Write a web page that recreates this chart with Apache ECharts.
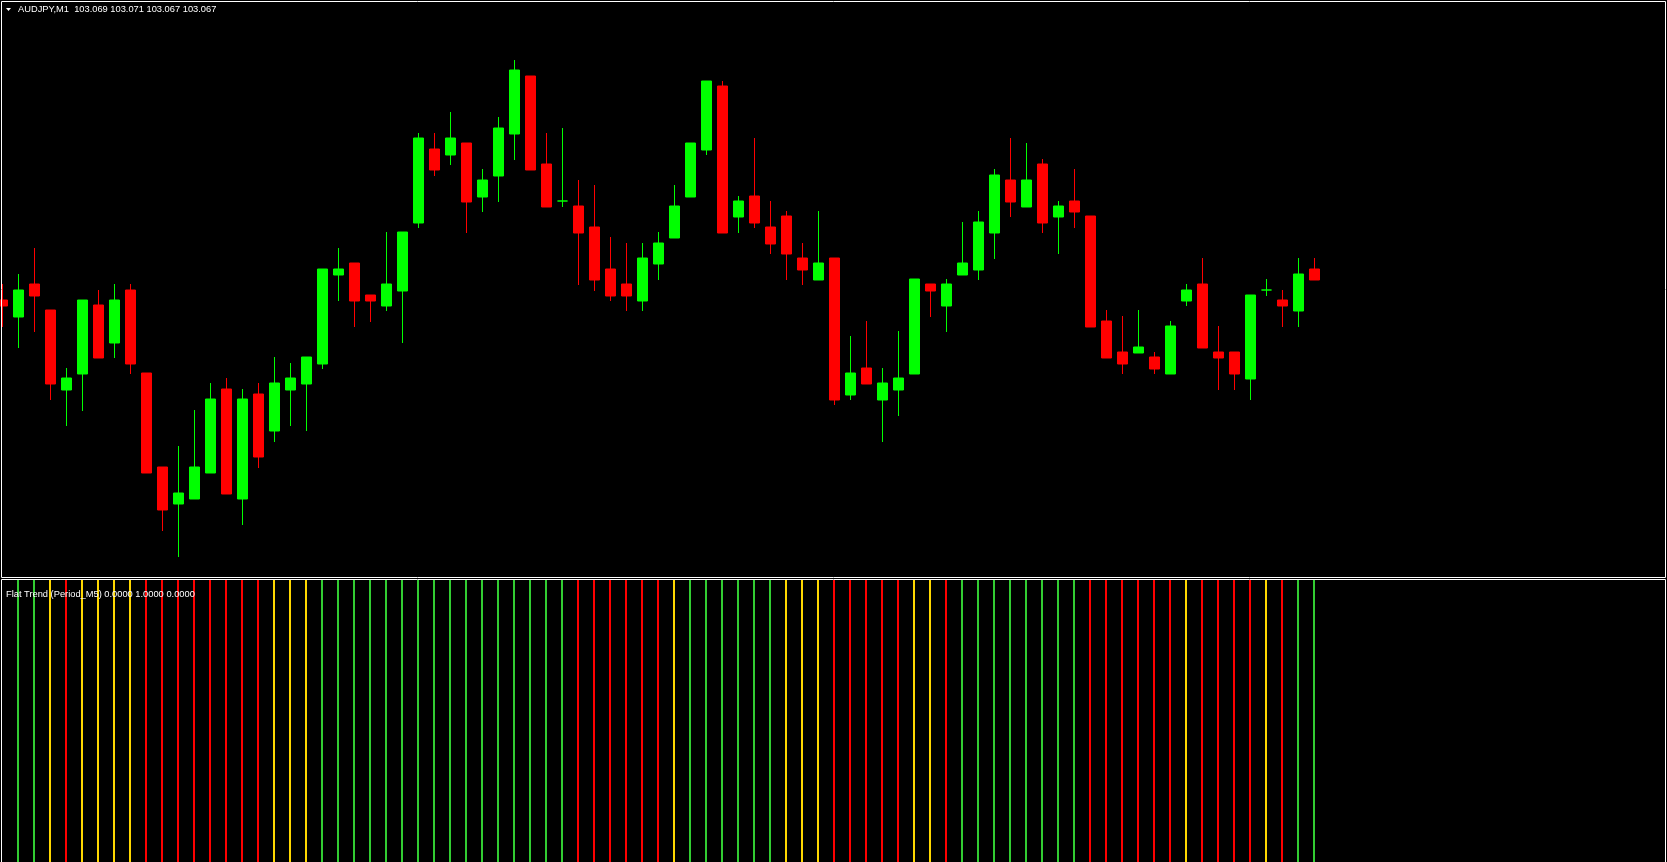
<!DOCTYPE html>
<html>
<head>
<meta charset="utf-8">
<script src="https://cdn.jsdelivr.net/npm/echarts@6/dist/echarts.min.js"></script>
<style>
html,body{margin:0;padding:0;background:#000;}
#chart{width:1667px;height:862px;}
</style>
</head>
<body>
<div id="chart"></div>
<script>
// ---- data ----
const symbol = 'AUDJPY';
const timeframe = 'M1';
const indicatorName = 'Flat Trend (Period_M5)';

const open = [
  103.0630,103.0596,103.0662,103.0610,103.0450,103.0482,103.0620,103.0544,103.0650,103.0484,
  103.0296,103.0222,103.0232,103.0284,103.0452,103.0232,103.0442,103.0368,103.0450,103.0462,
  103.0502,103.0680,103.0704,103.0640,103.0618,103.0648,103.0784,103.0932,103.0920,103.0944,
  103.0836,103.0878,103.0962,103.1078,103.0902,103.0828,103.0818,103.0776,103.0692,103.0662,
  103.0628,103.0702,103.0754,103.0836,103.0930,103.1058,103.0796,103.0838,103.0776,103.0798,
  103.0714,103.0670,103.0714,103.0440,103.0494,103.0430,103.0450,103.0482,103.0662,103.0618,
  103.0680,103.0690,103.0764,103.0870,103.0816,103.0902,103.0796,103.0828,103.0798,103.0588,
  103.0526,103.0524,103.0516,103.0482,103.0628,103.0662,103.0526,103.0526,103.0472,103.0650,
  103.0630,103.0608,103.0692
];
const high = [
  103.0662,103.0682,103.0734,103.0610,103.0494,103.0630,103.0650,103.0662,103.0662,103.0484,
  103.0296,103.0338,103.0410,103.0464,103.0474,103.0452,103.0464,103.0516,103.0504,103.0516,
  103.0692,103.0734,103.0704,103.0640,103.0766,103.0766,103.0964,103.0964,103.1006,103.0944,
  103.0892,103.0996,103.1110,103.1078,103.0964,103.0974,103.0870,103.0860,103.0756,103.0744,
  103.0744,103.0766,103.0860,103.0944,103.1068,103.1068,103.0838,103.0954,103.0828,103.0808,
  103.0744,103.0808,103.0714,103.0558,103.0588,103.0494,103.0568,103.0672,103.0662,103.0672,
  103.0786,103.0808,103.0892,103.0954,103.0944,103.0912,103.0828,103.0892,103.0798,103.0610,
  103.0598,103.0610,103.0526,103.0588,103.0662,103.0714,103.0578,103.0526,103.0640,103.0672,
  103.0650,103.0714,103.0714
];
const low = [
  103.0576,103.0534,103.0566,103.0430,103.0378,103.0408,103.0514,103.0514,103.0482,103.0284,
  103.0168,103.0116,103.0232,103.0284,103.0242,103.0180,103.0294,103.0346,103.0378,103.0368,
  103.0492,103.0628,103.0576,103.0586,103.0608,103.0544,103.0774,103.0878,103.0900,103.0764,
  103.0806,103.0826,103.0910,103.0890,103.0816,103.0816,103.0660,103.0648,103.0628,103.0608,
  103.0608,103.0670,103.0754,103.0836,103.0920,103.0764,103.0764,103.0774,103.0722,103.0670,
  103.0660,103.0670,103.0420,103.0430,103.0462,103.0346,103.0398,103.0482,103.0596,103.0566,
  103.0680,103.0670,103.0712,103.0796,103.0816,103.0764,103.0722,103.0774,103.0576,103.0514,
  103.0482,103.0524,103.0482,103.0482,103.0618,103.0534,103.0450,103.0450,103.0430,103.0638,
  103.0576,103.0576,103.0670
];
const close = [
  103.0618,103.0650,103.0638,103.0462,103.0474,103.0630,103.0514,103.0630,103.0502,103.0284,
  103.0210,103.0244,103.0296,103.0432,103.0242,103.0432,103.0316,103.0464,103.0474,103.0516,
  103.0692,103.0692,103.0628,103.0628,103.0662,103.0766,103.0954,103.0890,103.0954,103.0826,
  103.0870,103.0974,103.1090,103.0890,103.0816,103.0828,103.0764,103.0670,103.0638,103.0638,
  103.0714,103.0744,103.0818,103.0944,103.1068,103.0764,103.0828,103.0784,103.0742,103.0722,
  103.0690,103.0704,103.0430,103.0484,103.0462,103.0464,103.0474,103.0672,103.0648,103.0662,
  103.0704,103.0786,103.0880,103.0826,103.0870,103.0784,103.0818,103.0806,103.0576,103.0514,
  103.0502,103.0536,103.0492,103.0578,103.0650,103.0534,103.0514,103.0482,103.0640,103.0650,
  103.0618,103.0682,103.0670
];
// Flat Trend state per bar: 1 = up (green), 0 = flat (yellow), -1 = down (red)
const trend = [
  null,1,1,0,-1,0,0,0,0,-1,
  -1,-1,-1,-1,-1,-1,-1,0,0,0,
  1,1,1,1,1,1,1,1,1,1,
  1,1,1,1,1,1,-1,-1,-1,-1,
  -1,-1,0,1,1,1,1,1,1,0,
  0,0,-1,-1,-1,-1,-1,0,0,-1,
  1,1,1,1,1,1,1,1,-1,-1,
  -1,-1,-1,-1,0,-1,-1,-1,-1,0,
  -1,1,1
];
const slotCount = 105; // visible bar slots across the window
const barSlots = Array.from({length: slotCount}, (_, i) => String(i));

// ---- build options ----
const candles = open.map((o, i) => [o, close[i], low[i], high[i]]);
const upBuf = trend.map(t => t === 1 ? 1 : 0);
const flatBuf = trend.map(t => t === 0 ? 1 : 0);
const downBuf = trend.map(t => t === -1 ? 1 : 0);
const last = open.length - 1;
const titleText = symbol + ',' + timeframe + '  ' +
  [open[last], high[last], low[last], close[last]].map(v => v.toFixed(3)).join(' ');
const lt = trend[trend.length - 1];
const indText = indicatorName + ' ' +
  [lt === -1 ? 1 : 0, lt === 1 ? 1 : 0, lt === 0 ? 1 : 0].map(v => v.toFixed(4)).join(' ');

const font = '9.3px "Liberation Sans", Arial, sans-serif';
const chart = echarts.init(document.getElementById('chart'), null, {renderer: 'canvas'});
chart.setOption({
  backgroundColor: '#000000',
  animation: false,
  grid: [
    {left: 2.5, right: 0.5, top: 2, height: 574},
    {left: 2, right: 1, top: 580, bottom: 0}
  ],
  xAxis: [
    {type: 'category', gridIndex: 0, data: barSlots, boundaryGap: false, show: false},
    {type: 'category', gridIndex: 1, data: barSlots, boundaryGap: false, show: false}
  ],
  yAxis: [
    {type: 'value', gridIndex: 0, min: 103.0078, max: 103.1226, show: false},
    {type: 'value', gridIndex: 1, min: 0, max: 1, show: false}
  ],
  series: [
    {
      type: 'candlestick', xAxisIndex: 0, yAxisIndex: 0,
      data: candles, barWidth: 10,
      itemStyle: {
        color: '#00ff00', color0: '#ff0000',
        borderColor: '#00ff00', borderColor0: '#ff0000',
        borderColorDoji: '#00ff00', borderWidth: 1
      }
    },
    {type: 'bar', xAxisIndex: 1, yAxisIndex: 1, data: upBuf, barWidth: 2, barGap: '-100%',
     itemStyle: {color: '#32cd32'}, z: 2},
    {type: 'bar', xAxisIndex: 1, yAxisIndex: 1, data: flatBuf, barWidth: 2, barGap: '-100%',
     itemStyle: {color: '#ffd700'}, z: 2},
    {type: 'bar', xAxisIndex: 1, yAxisIndex: 1, data: downBuf, barWidth: 2, barGap: '-100%',
     itemStyle: {color: '#ff0000'}, z: 2}
  ],
  graphic: [
    {type: 'rect', silent: true, z: 50,
     shape: {x: 1.5, y: 1.5, width: 1664, height: 576},
     style: {fill: null, stroke: '#ffffff', lineWidth: 1}},
    {type: 'rect', silent: true, z: 50,
     shape: {x: 1.5, y: 579.5, width: 1664, height: 300},
     style: {fill: null, stroke: '#ffffff', lineWidth: 1}},
    {type: 'polygon', silent: true, z: 60,
     shape: {points: [[6, 8], [11, 8], [8.5, 11]]},
     style: {fill: '#ffffff'}},
    {type: 'text', silent: true, z: 60, x: 18, y: 9.5,
     style: {text: titleText, fill: '#ffffff', font: font, verticalAlign: 'middle'}},
    {type: 'text', silent: true, z: 60, x: 6, y: 594,
     style: {text: indText, fill: '#ffffff', font: font, verticalAlign: 'middle'}}
  ]
});
</script>
</body>
</html>
